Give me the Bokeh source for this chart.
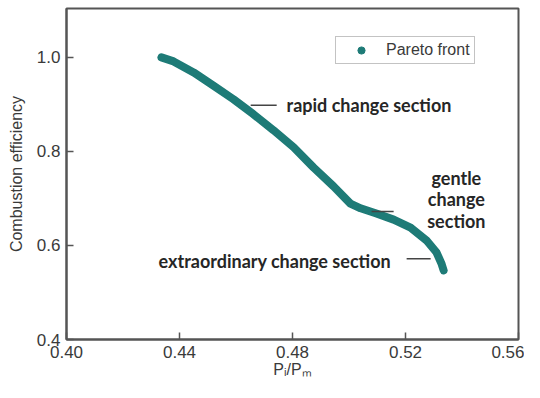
from bokeh.plotting import figure
from bokeh.models import Range1d, FixedTicker, Label, ColumnDataSource, Legend, LegendItem
from bokeh.embed import file_html
from bokeh.resources import INLINE

# Pareto front
pf_ratio = [0.4336, 0.4379, 0.4450, 0.4520, 0.4591, 0.4662, 0.4733, 0.4804, 0.4874, 0.4945,
            0.5005, 0.5041, 0.5097, 0.5158, 0.5218, 0.5274, 0.5310, 0.5327, 0.5335]
efficiency = [1.000, 0.9915, 0.968, 0.940, 0.911, 0.879, 0.845, 0.809, 0.766, 0.726,
              0.689, 0.679, 0.668, 0.655, 0.638, 0.611, 0.585, 0.562, 0.547]

x_ticks = [0.40, 0.44, 0.48, 0.52, 0.56]
x_tick_labels = ["0.40", "0.44", "0.48", "0.52", "0.56"]
y_ticks = [0.4, 0.6, 0.8, 1.0]
y_tick_labels = ["0.4", "0.6", "0.8", "1.0"]

TEAL = "#1e7b77"
AX = "#555555"
TXT = "#3a3a3a"

p = figure(output_backend="svg", toolbar_location=None,
           frame_width=452, frame_height=331,
           min_border_left=66, min_border_right=6, min_border_top=8, min_border_bottom=43,
           x_range=Range1d(0.40, 0.56), y_range=Range1d(0.4, 1.104))
p.grid.visible = False
p.background_fill_color = "white"
p.outline_line_color = AX
p.outline_line_width = 2

for ax, ticks, labels in ((p.xaxis[0], x_ticks, x_tick_labels), (p.yaxis[0], y_ticks, y_tick_labels)):
    ax.ticker = FixedTicker(ticks=ticks)
    ax.major_label_overrides = {t: l for t, l in zip(ticks, labels)}
    ax.major_tick_in = 7
    ax.major_tick_out = 0
    ax.minor_tick_line_color = None
    ax.axis_line_color = AX
    ax.axis_line_width = 2
    ax.major_tick_line_color = AX
    ax.major_tick_line_width = 1.5
    ax.major_label_text_font = "Liberation Sans"
    ax.major_label_text_font_size = "17px"
    ax.major_label_text_color = TXT
    ax.axis_label_text_font = "Liberation Sans"
    ax.axis_label_text_font_style = "normal"
    ax.axis_label_text_font_size = "16px"
    ax.axis_label_text_color = TXT

p.xaxis.major_label_standoff = 6
p.yaxis.major_label_standoff = 6
p.yaxis.axis_label = "Combustion efficiency"
p.yaxis.axis_label_standoff = 9
p.xaxis.axis_label = "P\u1d62/P\u2098"
p.xaxis.axis_label_standoff = 0

src = ColumnDataSource(dict(x=pf_ratio, y=efficiency))
p.line("x", "y", source=src, line_color=TEAL, line_width=8, line_cap="round", line_join="round")
pts = p.scatter("x", "y", source=src, size=6, color=TEAL)

legend = Legend(items=[LegendItem(label="Pareto front", renderers=[pts])],
                location=(269, 275), border_line_color="#888888", border_line_width=1.5,
                label_text_font="Liberation Sans", label_text_font_size="16px", label_text_color=TXT,
                padding=4, margin=0, spacing=0, glyph_width=42, glyph_height=18, label_height=18,
                label_standoff=4, background_fill_alpha=1)
p.add_layout(legend, "center")

# annotations
def note(x, y, t, align="left"):
    p.add_layout(Label(x=x, y=y, text=t, text_font="Lato", text_font_style="bold",
                       text_font_size="18px", text_color="#262626", text_align=align,
                       text_baseline="middle"))

note(0.4779, 0.898, "rapid change section")
note(0.5380, 0.743, "gentle", "center")
note(0.5380, 0.698, "change", "center")
note(0.5380, 0.653, "section", "center")
note(0.4326, 0.568, "extraordinary change section")

p.segment(x0=[0.4652, 0.5080, 0.5204], y0=[0.898, 0.672, 0.572],
          x1=[0.4744, 0.5158, 0.5289], y1=[0.898, 0.672, 0.572],
          line_color="#444444", line_width=1.5)

open("out.html", "w").write(file_html(p, INLINE))
